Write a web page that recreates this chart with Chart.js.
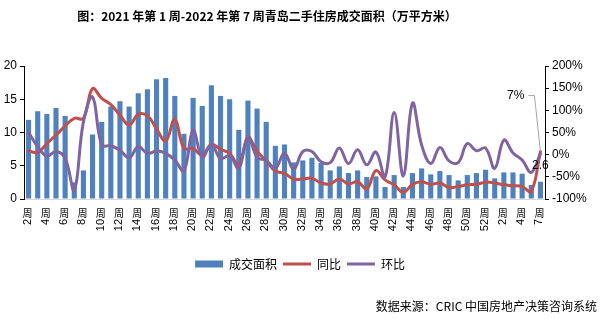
<!DOCTYPE html>
<html>
<head>
<meta charset="utf-8">
<script src="https://cdn.jsdelivr.net/npm/chart.js@4.4.1/dist/chart.umd.min.js"></script>
<style>
  html, body { margin: 0; padding: 0; background: #fff; }
  #wrap { width: 600px; height: 321px; position: relative; }
</style>
</head>
<body>
<div id="wrap"><canvas id="Chart"></canvas></div>
<script>
// weeks: 2021 wk2..wk52, then 2022
var weeks = ['2','3','4','5','6','7','8','9','10','11','12','13','14','15','16','17','18','19','20','21',
    '22','23','24','25','26','27','28','29','30','31','32','33','34','35','36','37','38','39','40','41',
    '42','43','44','45','46','47','48','49','50','51','52','1','2','3','4','5','7'];

// 成交面积 (万平方米)
var area = [11.9, 13.2, 12.8, 13.7, 12.5, 2.5, 4.3, 9.7, 11.6, 13.9, 14.7, 13.9, 15.9, 16.5, 18.0, 18.2, 15.5, 9.8, 15.2, 14.0,
    17.1, 15.5, 15.0, 10.4, 14.8, 13.6, 11.6, 8.0, 8.2, 5.5, 5.8, 6.2, 5.4, 4.3, 4.9, 3.9, 4.3, 3.3, 3.4, 1.8,
    3.6, 1.8, 3.9, 4.6, 3.7, 4.2, 3.6, 2.8, 3.6, 3.9, 4.4, 3.1, 4.0, 4.0, 3.8, 2.1, 2.6];

// 同比 (%)
var yoy = [9, 5, 25, 44, 65, 82, 82, 149, 127, 113, 89, 67, 91, 88, 58, 31, 80, 14, 14, -1,
    23, 12, 3, -23, 38, 8, -14, -37, -42, -55, -55, -53, -64, -66, -55, -66, -61, -77, -36, -57,
    -68, -85, -67, -61, -67, -64, -74, -72, -68, -67, -62, -64, -68, -70, -72, -83, 7];

// 环比 (%)
var mom = [50, 18, -3, 7, -8, -80, 74, 130, 22, 20, 10, -7, 18, 3, 8, 3, -12, -37, 55, -6,
    23, -9, -2, -31, 41, -6, -13, -31, 4, -33, 7, 7, -16, -18, 15, -20, 11, -23, 6, -50,
    95, -48, 116, 22, -20, 16, -14, -18, 25, 9, 15, -31, 33, 4, -12, -40, 2];

var leftTicks = [0, 5, 10, 15, 20];
var rightTicks = [-100, -50, 0, 50, 100, 150, 200];

var TITLE = '图：2021 年第 1 周-2022 年第 7 周青岛二手住房成交面积（万平方米）';
var SOURCE = '数据来源：CRIC 中国房地产决策咨询系统';

var CJK = '"Noto Sans CJK SC", sans-serif';
var NUM = '"Liberation Sans", "Noto Sans CJK SC", sans-serif';

// title, week labels, source line and the two end-value labels
var overlay = {
    id: 'overlay',
    afterDraw: function (chart) {
        var ctx = chart.ctx;
        var x = chart.scales.x, y = chart.scales.y, y1 = chart.scales.y1;
        ctx.save();
        ctx.fillStyle = '#000';

        ctx.font = 'bold 12px ' + CJK;
        ctx.textAlign = 'center';
        ctx.textBaseline = 'middle';
        ctx.fillText(TITLE, 267, 16);

        for (var i = 0; i < weeks.length; i += 2) {
            var px = x.getPixelForValue(i) - 1;
            ctx.font = '10px ' + CJK;
            ctx.textAlign = 'center';
            ctx.textBaseline = 'middle';
            ctx.fillText('周', px, 213);
            ctx.save();
            ctx.translate(px, 219);
            ctx.rotate(-Math.PI / 2);
            ctx.font = '11px ' + NUM;
            ctx.textAlign = 'right';
            ctx.fillText(weeks[i], 0, 0);
            ctx.restore();
        }

        ctx.font = '12px ' + CJK;
        ctx.textAlign = 'right';
        ctx.textBaseline = 'middle';
        ctx.fillText(SOURCE, 597, 306);

        var n = weeks.length - 1;
        var bx = x.getPixelForValue(n);
        ctx.font = '12px ' + NUM;
        ctx.textAlign = 'center';
        ctx.fillText(String(area[n]), bx, y.getPixelForValue(area[n]) - 16);

        var py = y1.getPixelForValue(yoy[n]);
        ctx.strokeStyle = '#A6A6A6';
        ctx.lineWidth = 1;
        ctx.beginPath();
        ctx.moveTo(bx, py);
        ctx.lineTo(bx - 6, py - 56);
        ctx.lineTo(bx - 12, py - 56);
        ctx.stroke();
        ctx.textAlign = 'right';
        ctx.fillText(yoy[n] + '%', bx - 16, py - 56);
        ctx.restore();
    }
};

new Chart(document.getElementById('Chart').getContext('2d'), {
    data: {
        labels: weeks,
        datasets: [
            { type: 'bar', label: '成交面积', data: area, yAxisID: 'y', order: 3,
              backgroundColor: '#4F81BD', borderWidth: 0, barPercentage: 0.56, categoryPercentage: 1 },
            { type: 'line', label: '同比', data: yoy, yAxisID: 'y1', order: 2,
              borderColor: '#C0504D', backgroundColor: '#C0504D', borderWidth: 3, pointRadius: 0,
              tension: 0.4, borderJoinStyle: 'round', borderCapStyle: 'round' },
            { type: 'line', label: '环比', data: mom, yAxisID: 'y1', order: 1,
              borderColor: '#8064A2', backgroundColor: '#8064A2', borderWidth: 3, pointRadius: 0,
              tension: 0.4, borderJoinStyle: 'round', borderCapStyle: 'round' }
        ]
    },
    options: {
        responsive: true,
        maintainAspectRatio: false,
        animation: false,
        events: [],
        layout: { padding: { top: 66, bottom: 41, left: 0, right: 0 } },
        scales: {
            x: {
                offset: true,
                grid: { display: false },
                border: { color: '#D9D9D9' },
                ticks: { display: false },
                afterFit: function (s) { s.height = 53; }
            },
            y: {
                position: 'left',
                min: 0, max: 20,
                afterBuildTicks: function (s) { s.ticks = leftTicks.map(function (v) { return { value: v }; }); },
                grid: { drawOnChartArea: false, tickLength: 4, color: '#000' },
                border: { color: '#000' },
                ticks: { color: '#000', padding: 3, font: { size: 12, family: NUM } },
                afterFit: function (s) { s.width = 24; }
            },
            y1: {
                position: 'right',
                min: -100, max: 200,
                afterBuildTicks: function (s) { s.ticks = rightTicks.map(function (v) { return { value: v }; }); },
                grid: { drawOnChartArea: false, tickLength: 4, color: '#000' },
                border: { color: '#000' },
                ticks: { color: '#000', padding: 3, font: { size: 12, family: NUM },
                         callback: function (v) { return v + '%'; } },
                afterFit: function (s) { s.width = 55; }
            }
        },
        plugins: {
            title: { display: false },
            tooltip: { enabled: false },
            legend: {
                position: 'bottom',
                onClick: function () {},
                labels: {
                    usePointStyle: true,
                    pointStyleWidth: 28,
                    boxHeight: 7,
                    padding: 6,
                    color: '#000',
                    font: { size: 12, family: CJK },
                    sort: function (a, b) { return a.datasetIndex - b.datasetIndex; },
                    generateLabels: function (chart) {
                        return chart.data.datasets.map(function (ds, i) {
                            var isLine = ds.type === 'line';
                            return {
                                text: ds.label,
                                datasetIndex: i,
                                fillStyle: ds.backgroundColor,
                                strokeStyle: isLine ? ds.borderColor : ds.backgroundColor,
                                lineWidth: isLine ? 3 : 0,
                                pointStyle: isLine ? 'line' : 'rect',
                                hidden: false,
                                fontColor: '#000'
                            };
                        });
                    }
                }
            }
        }
    },
    plugins: [overlay]
});
</script>
</body>
</html>
